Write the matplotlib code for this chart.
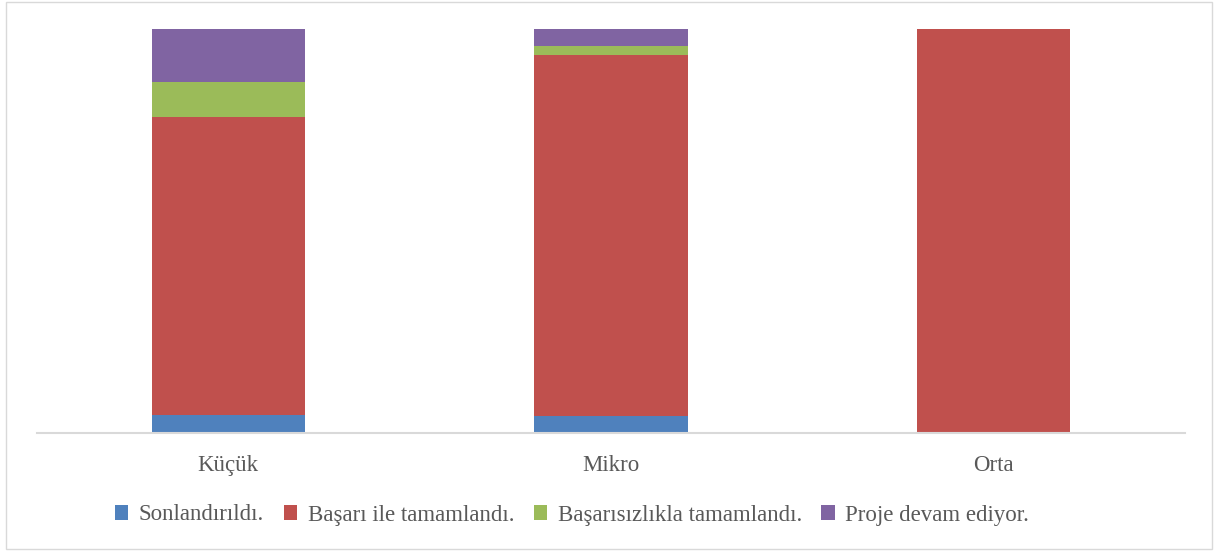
import matplotlib
matplotlib.use("Agg")
import matplotlib.pyplot as plt
from matplotlib.patches import Rectangle
import numpy as np

categories = ["Küçük", "Mikro", "Orta"]
series_names = ["Sonlandırıldı.", "Başarı ile tamamlandı.", "Başarısızlıkla tamamlandı.", "Proje devam ediyor."]
sonlandirildi = [4.35, 4.1, 0.0]
basari = [73.9, 89.5, 100.0]
basarisiz = [8.7, 2.2, 0.0]
devam = [13.05, 4.2, 0.0]
colors = ["#4f81bd", "#c0504d", "#9bbb59", "#8064a2"]

W, H = 1214, 551
fig = plt.figure(figsize=(W / 100, H / 100), dpi=100)
ax = fig.add_axes([37 / W, (H - 433) / H, (1185 - 37) / W, (433 - 29) / H])

x = np.arange(len(categories))
bottom = np.zeros(len(categories))
handles = []
for vals, name, c in zip([sonlandirildi, basari, basarisiz, devam], series_names, colors):
    b = ax.bar(x, vals, width=0.4, bottom=bottom, color=c, label=name, edgecolor="none")
    handles.append(b)
    bottom += np.array(vals)

ax.set_xlim(-0.5, 2.5)
ax.set_ylim(0, 100)
ax.set_yticks([])
for s in ["top", "right", "left"]:
    ax.spines[s].set_visible(False)
ax.spines["bottom"].set_color("#d9d9d9")
ax.spines["bottom"].set_linewidth(1.5)
ax.set_xticks(x)
ax.set_xticklabels(categories, fontfamily="Liberation Serif", fontsize=16.5, color="#595959")
ax.tick_params(axis="x", length=0, pad=16)

leg = fig.legend(handles=handles, labels=series_names, loc="center", bbox_to_anchor=(572 / W, (H - 515) / H),
                 ncol=4, frameon=False, handlelength=0.6, handleheight=0.6, handletextpad=0.45,
                 columnspacing=0.85, prop={"family": "Liberation Serif", "size": 16.5})
for t in leg.get_texts():
    t.set_color("#595959")

fig.patches.append(Rectangle((6 / W, 2 / H), (1212 - 6) / W, (549 - 2) / H, transform=fig.transFigure,
                             fill=False, edgecolor="#d9d9d9", linewidth=1))

fig.savefig("out.png", dpi=100)
